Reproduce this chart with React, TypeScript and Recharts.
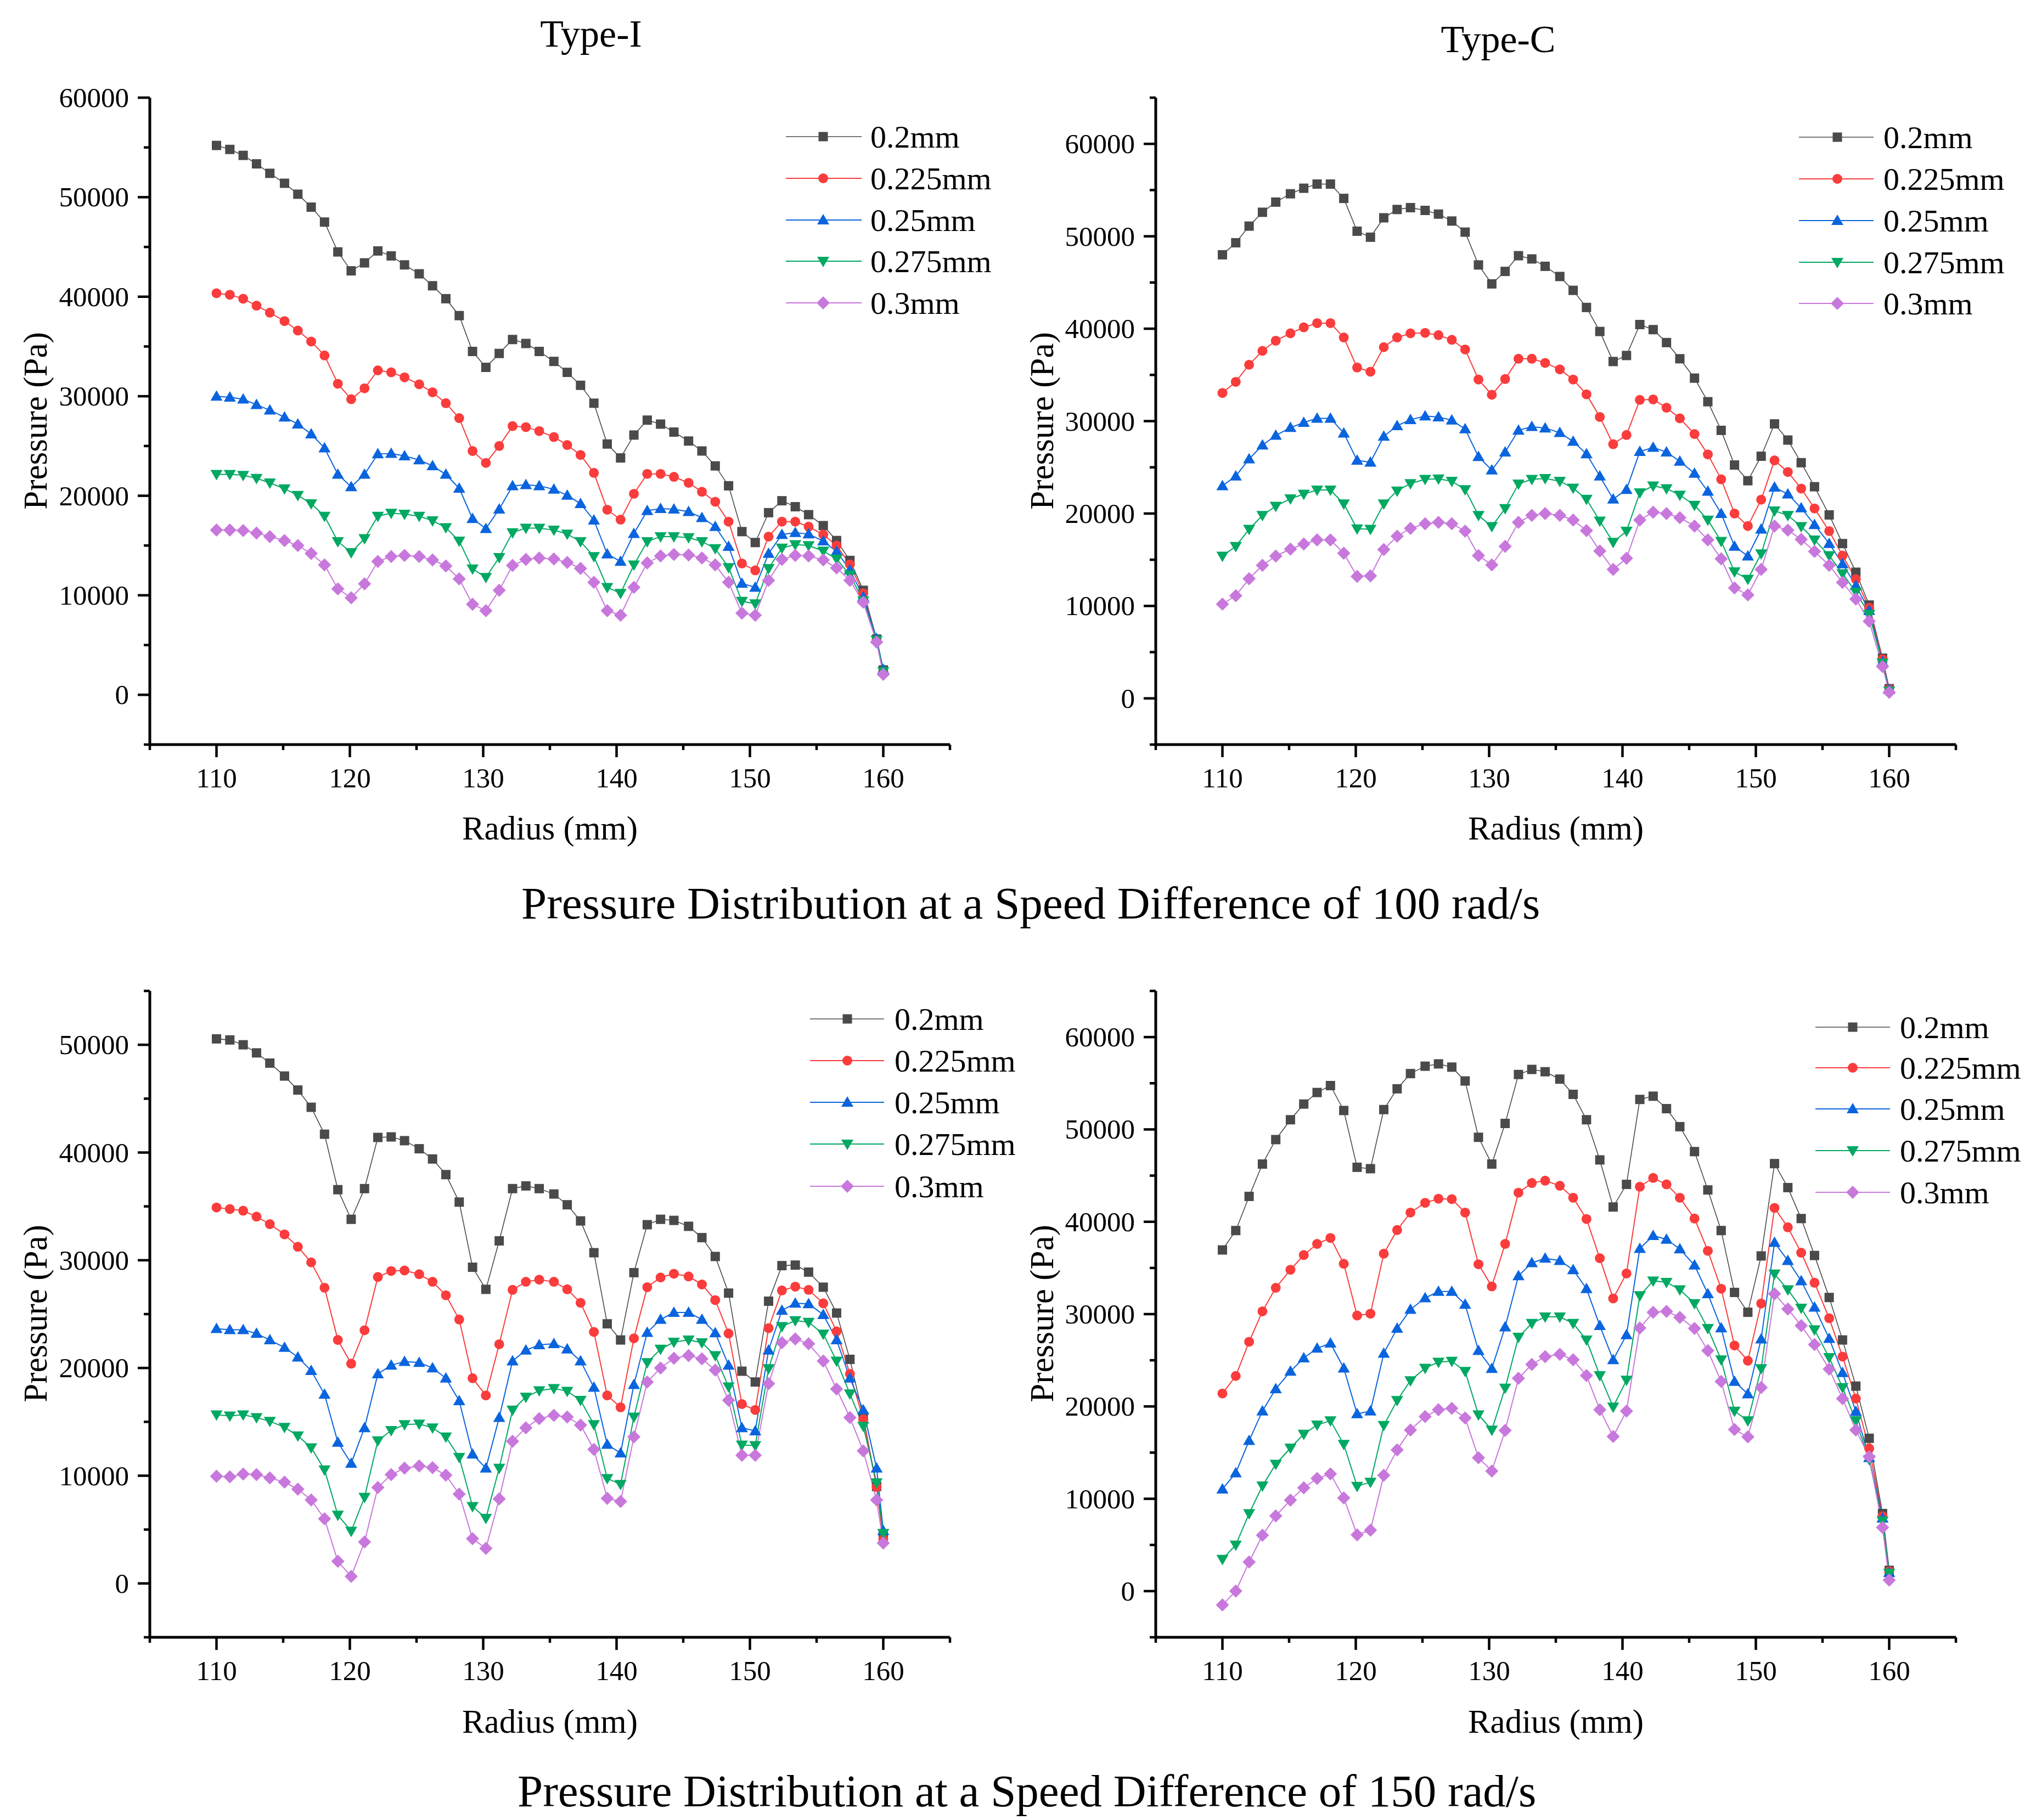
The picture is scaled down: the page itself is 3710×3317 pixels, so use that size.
import React from 'react';
import { LineChart, Line, XAxis, YAxis } from 'recharts';

const FONT = "'Liberation Serif', 'Times New Roman', Times, serif";

// Radius (mm) sample positions
const radius = [110, 111, 112, 113, 114, 115.1, 116.1, 117.1, 118.1, 119.1, 120.1, 121.1, 122.1, 123.1, 124.1, 125.2, 126.2, 127.2, 128.2, 129.2, 130.2, 131.2, 132.2, 133.2, 134.2, 135.3, 136.3, 137.3, 138.3, 139.3, 140.3, 141.3, 142.3, 143.3, 144.3, 145.4, 146.4, 147.4, 148.4, 149.4, 150.4, 151.4, 152.4, 153.4, 154.4, 155.5, 156.5, 157.5, 158.5, 159.5, 160];

const seriesNames = ['0.2mm', '0.225mm', '0.25mm', '0.275mm', '0.3mm'];
const xTicks = [105, 110, 115, 120, 125, 130, 135, 140, 145, 150, 155, 160, 165];
const yTicks60 = [-5000, 0, 5000, 10000, 15000, 20000, 25000, 30000, 35000, 40000, 45000, 50000, 55000, 60000];
const yTicks65 = [-5000, 0, 5000, 10000, 15000, 20000, 25000, 30000, 35000, 40000, 45000, 50000, 55000, 60000, 65000];
const yTicks55 = [-5000, 0, 5000, 10000, 15000, 20000, 25000, 30000, 35000, 40000, 45000, 50000, 55000];

// Type-I, 100 rad/s
const i100_02 = [55200, 54800, 54200, 53350, 52400, 51400, 50300, 49000, 47500, 44500, 42600, 43400, 44600, 44100, 43200, 42300, 41100, 39800, 38100, 34500, 32900, 34300, 35700, 35300, 34500, 33500, 32400, 31100, 29300, 25200, 23800, 26100, 27600, 27200, 26400, 25500, 24500, 23000, 21000, 16400, 15300, 18300, 19500, 18900, 18100, 17000, 15500, 13500, 10500, 5600, 2500];
const i100_0225 = [40350, 40200, 39800, 39100, 38400, 37550, 36600, 35500, 34100, 31250, 29700, 30800, 32600, 32400, 31900, 31200, 30400, 29300, 27800, 24500, 23300, 25000, 27000, 26900, 26500, 25900, 25100, 24100, 22300, 18600, 17600, 20200, 22200, 22200, 21900, 21300, 20400, 19400, 17400, 13200, 12500, 15900, 17400, 17400, 16900, 16100, 15000, 13100, 10200, 5500, 2400];
const i100_025 = [30000, 29900, 29700, 29150, 28600, 27900, 27200, 26200, 24800, 22150, 20900, 22150, 24200, 24250, 24000, 23600, 23000, 22150, 20750, 17700, 16700, 18650, 21000, 21100, 21000, 20650, 20050, 19200, 17550, 14150, 13400, 16200, 18500, 18700, 18650, 18400, 17800, 16900, 14900, 11200, 10800, 14200, 16100, 16300, 16150, 15450, 14400, 12550, 9850, 5650, 2550];
const i100_0275 = [22150, 22150, 22050, 21750, 21300, 20700, 20050, 19200, 17950, 15400, 14300, 15700, 17950, 18250, 18150, 17950, 17500, 16800, 15450, 12650, 11800, 13800, 16300, 16750, 16750, 16550, 16150, 15400, 13900, 10800, 10200, 13050, 15400, 15900, 15900, 15800, 15400, 14700, 12800, 9400, 9150, 12700, 14750, 15100, 15000, 14450, 13650, 12050, 9450, 5500, 2350];
const i100_03 = [16550, 16550, 16500, 16250, 15900, 15500, 15000, 14200, 13050, 10650, 9750, 11150, 13400, 13900, 14000, 13900, 13550, 12950, 11650, 9100, 8450, 10500, 13000, 13600, 13750, 13650, 13300, 12700, 11300, 8450, 8000, 10800, 13250, 13950, 14100, 14050, 13750, 13050, 11300, 8200, 8000, 11500, 13600, 14000, 13950, 13550, 12750, 11500, 9300, 5300, 2050];

// Type-C, 100 rad/s
const c100_02 = [48000, 49300, 51100, 52600, 53700, 54600, 55200, 55650, 55650, 54100, 50550, 49900, 52000, 52900, 53100, 52800, 52400, 51650, 50450, 46900, 44850, 46200, 47900, 47550, 46750, 45650, 44150, 42300, 39700, 36450, 37100, 40450, 39900, 38500, 36750, 34650, 32100, 29000, 25250, 23550, 26200, 29700, 27950, 25500, 22900, 19850, 16750, 13650, 10100, 4350, 1050];
const c100_0225 = [33050, 34250, 36100, 37600, 38700, 39500, 40150, 40600, 40600, 39050, 35800, 35350, 38000, 39050, 39500, 39550, 39300, 38800, 37750, 34500, 32850, 34550, 36750, 36750, 36300, 35600, 34500, 32900, 30450, 27500, 28500, 32300, 32350, 31450, 30300, 28600, 26400, 23700, 20000, 18650, 21500, 25750, 24500, 22700, 20550, 18100, 15450, 12900, 9800, 4250, 1000];
const c100_025 = [23000, 24050, 25900, 27400, 28450, 29300, 29850, 30300, 30300, 28700, 25750, 25550, 28350, 29500, 30150, 30550, 30450, 30100, 29150, 26150, 24700, 26650, 29000, 29400, 29250, 28750, 27800, 26450, 24050, 21550, 22600, 26700, 27150, 26650, 25650, 24350, 22400, 20000, 16450, 15400, 18300, 22850, 22100, 20600, 18800, 16750, 14550, 12200, 9500, 3950, 950];
const c100_0275 = [15400, 16450, 18300, 19800, 20800, 21600, 22100, 22550, 22550, 21050, 18350, 18300, 21050, 22450, 23250, 23700, 23750, 23500, 22600, 19800, 18600, 20550, 23200, 23700, 23800, 23500, 22750, 21550, 19200, 16900, 18100, 22250, 23000, 22700, 22000, 20900, 19300, 17000, 13700, 12900, 15650, 20300, 19800, 18600, 17150, 15450, 13500, 11500, 9100, 3850, 800];
const c100_03 = [10200, 11100, 12950, 14400, 15400, 16150, 16700, 17150, 17150, 15700, 13200, 13250, 16100, 17550, 18400, 18900, 19050, 18900, 18100, 15450, 14450, 16450, 19050, 19800, 20000, 19800, 19300, 18150, 15950, 13950, 15150, 19300, 20150, 20000, 19550, 18650, 17150, 15100, 11950, 11200, 13950, 18650, 18200, 17200, 15900, 14400, 12550, 10750, 8350, 3450, 650];

// Type-I, 150 rad/s
const i150_02 = [50550, 50450, 50000, 49250, 48300, 47100, 45800, 44200, 41700, 36550, 33800, 36650, 41400, 41450, 41100, 40350, 39400, 37950, 35400, 29350, 27300, 31800, 36650, 36900, 36650, 36150, 35150, 33650, 30700, 24100, 22600, 28850, 33300, 33800, 33700, 33150, 32100, 30350, 26950, 19700, 18700, 26200, 29500, 29550, 28900, 27500, 25100, 20800, 15500, 9000, 4500];
const i150_0225 = [34900, 34750, 34600, 34050, 33350, 32400, 31250, 29800, 27450, 22600, 20400, 23500, 28450, 29000, 29050, 28700, 28000, 26750, 24500, 19050, 17450, 22200, 27250, 28000, 28200, 28000, 27300, 26050, 23350, 17450, 16350, 22750, 27500, 28400, 28750, 28500, 27750, 26300, 23200, 16650, 16100, 23700, 27200, 27550, 27250, 26000, 23400, 19450, 15250, 8950, 4100];
const i150_025 = [23650, 23550, 23550, 23200, 22600, 21900, 21000, 19750, 17550, 13100, 11150, 14450, 19450, 20250, 20600, 20500, 20000, 19050, 16950, 12000, 10700, 15400, 20650, 21650, 22150, 22250, 21750, 20650, 18200, 12900, 12100, 18450, 23300, 24500, 25150, 25150, 24500, 23250, 20250, 14450, 14150, 21650, 25350, 26000, 25950, 24950, 22600, 19050, 16100, 10700, 4900];
const i150_0275 = [15650, 15550, 15650, 15400, 15050, 14500, 13700, 12600, 10550, 6350, 4850, 8000, 13250, 14200, 14750, 14800, 14450, 13600, 11700, 7150, 6050, 10700, 16100, 17300, 17900, 18100, 17850, 17000, 14750, 9750, 9200, 15450, 20500, 21750, 22400, 22600, 22350, 21150, 18250, 12850, 12800, 19950, 23850, 24400, 24250, 23150, 20650, 17600, 14600, 9350, 4650];
const i150_03 = [9950, 9900, 10150, 10100, 9800, 9400, 8750, 7750, 6000, 2050, 650, 3850, 8900, 10100, 10700, 10900, 10750, 10050, 8300, 4150, 3250, 7850, 13200, 14450, 15300, 15600, 15450, 14700, 12450, 7900, 7600, 13600, 18700, 20000, 20900, 21150, 20850, 19800, 17000, 11900, 11900, 18550, 22350, 22700, 22250, 20650, 18050, 15400, 12300, 7750, 3750];

// Type-C, 150 rad/s
const c150_02 = [36950, 39050, 42750, 46250, 48900, 51050, 52750, 54000, 54750, 52050, 45900, 45750, 52150, 54400, 56050, 56850, 57100, 56750, 55250, 49150, 46250, 50650, 55950, 56500, 56250, 55450, 53800, 51050, 46700, 41600, 44050, 53250, 53600, 52250, 50300, 47600, 43450, 39050, 32350, 30200, 36300, 46300, 43700, 40350, 36350, 31800, 27200, 22200, 16550, 8400, 2250];
const c150_0225 = [21400, 23300, 27000, 30300, 32850, 34800, 36400, 37600, 38250, 35450, 29850, 30050, 36550, 39100, 41000, 42050, 42500, 42450, 41000, 35400, 33000, 37600, 43150, 44200, 44450, 43900, 42600, 40300, 36050, 31700, 34400, 43800, 44750, 44050, 42600, 40350, 36850, 32750, 26600, 24950, 31150, 41500, 39400, 36650, 33400, 29550, 25400, 20850, 15450, 8100, 2150];
const c150_025 = [11050, 12800, 16300, 19500, 21900, 23800, 25250, 26300, 26850, 24150, 19200, 19500, 25750, 28450, 30500, 31750, 32450, 32450, 31050, 26050, 24100, 28600, 34150, 35550, 36050, 35800, 34800, 32750, 28750, 25050, 27750, 37100, 38500, 38100, 37050, 35300, 32200, 28500, 22700, 21350, 27300, 37750, 35800, 33600, 30750, 27350, 23650, 19450, 14450, 7900, 2000];
const c150_0275 = [3450, 5000, 8400, 11400, 13750, 15500, 17000, 18000, 18450, 15900, 11350, 11800, 17950, 20650, 22800, 24150, 24800, 24900, 23800, 19100, 17450, 22000, 27500, 29000, 29700, 29700, 29000, 27200, 23350, 19950, 22850, 32000, 33600, 33450, 32650, 31150, 28450, 25050, 19500, 18450, 24100, 34350, 32650, 30650, 28300, 25300, 22050, 18450, 14250, 7600, 1950];
const c150_03 = [-1500, 0, 3150, 6050, 8150, 9850, 11200, 12200, 12700, 10100, 6100, 6600, 12550, 15300, 17450, 18900, 19650, 19800, 18750, 14450, 13000, 17400, 23050, 24550, 25400, 25650, 25050, 23350, 19650, 16750, 19500, 28500, 30200, 30300, 29650, 28450, 26050, 22700, 17500, 16700, 22050, 32200, 30550, 28750, 26700, 24050, 20850, 17450, 14550, 6900, 1200];

const KEYS = ['a', 'b', 'c', 'd', 'e'];
const COLORS = ['#4a4a4a', '#fa3c3c', '#0a64de', '#00a862', '#c878dc'];
const SHAPES = ['square', 'circle', 'up', 'down', 'diamond'];

function buildRows(cols: number[][]) {
  return radius.map((r, i) => {
    const row: any = { r };
    KEYS.forEach((k, j) => {
      row[k] = cols[j][i];
    });
    return row;
  });
}

function Marker({ shape, cx, cy, color }: { shape: string; cx: number; cy: number; color: string }) {
  if (cx == null || cy == null) return null;
  switch (shape) {
    case 'square':
      return <rect x={cx - 8.5} y={cy - 8.5} width={17} height={17} fill={color} />;
    case 'circle':
      return <circle cx={cx} cy={cy} r={9} fill={color} />;
    case 'up':
      return <polygon points={`${cx},${cy - 11} ${cx + 11},${cy + 8} ${cx - 11},${cy + 8}`} fill={color} />;
    case 'down':
      return <polygon points={`${cx - 11},${cy - 8} ${cx + 11},${cy - 8} ${cx},${cy + 11}`} fill={color} />;
    default:
      return <polygon points={`${cx},${cy - 12} ${cx + 12},${cy} ${cx},${cy + 12} ${cx - 12},${cy}`} fill={color} />;
  }
}

type Box = { left: number; top: number; width: number; height: number };
type Plot = { left: number; right: number; top: number; bottom: number };

const YW = 200;
const XH = 150;

function Panel({ box, plot, yDomain, yTicks, rows }: { box: Box; plot: Plot; yDomain: [number, number]; yTicks: number[]; rows: any[] }) {
  const margin = {
    left: plot.left - box.left - YW,
    right: box.left + box.width - plot.right,
    top: plot.top - box.top,
    bottom: box.top + box.height - plot.bottom - XH,
  };
  const PL = plot.left - box.left;
  const PB = plot.bottom - box.top;

  const yTick = (props: any) => {
    const { y, payload } = props;
    const v = payload.value;
    const major = v % 10000 === 0 && v >= 0;
    return (
      <g>
        <line x1={PL - (major ? 22 : 11)} x2={PL} y1={y} y2={y} stroke="#000" strokeWidth={4.5} />
        {major && (
          <text x={PL - 38} y={y} textAnchor="end" dominantBaseline="central" fontSize={51} fontFamily={FONT} fill="#000">
            {v}
          </text>
        )}
      </g>
    );
  };
  const xTick = (props: any) => {
    const { x, payload } = props;
    const v = payload.value;
    const major = v % 10 === 0;
    return (
      <g>
        <line x1={x} x2={x} y1={PB} y2={PB + (major ? 23 : 10)} stroke="#000" strokeWidth={4.5} />
        {major && (
          <text x={x} y={PB + 61} textAnchor="middle" dominantBaseline="central" fontSize={51} fontFamily={FONT} fill="#000">
            {v}
          </text>
        )}
      </g>
    );
  };

  return (
    <div style={{ position: 'absolute', left: box.left, top: box.top, width: box.width, height: box.height }}>
      <LineChart width={box.width} height={box.height} data={rows} margin={margin}>
        <XAxis
          dataKey="r"
          type="number"
          domain={[105, 165]}
          ticks={xTicks}
          interval={0}
          height={XH}
          tickLine={false}
          axisLine={{ stroke: '#000', strokeWidth: 5 }}
          tick={xTick}
          allowDataOverflow
        />
        <YAxis
          type="number"
          domain={yDomain}
          ticks={yTicks}
          interval={0}
          width={YW}
          tickLine={false}
          axisLine={{ stroke: '#000', strokeWidth: 5 }}
          tick={yTick}
          allowDataOverflow
        />
        {KEYS.map((k, j) => (
          <Line
            key={k}
            type="linear"
            dataKey={k}
            name={seriesNames[j]}
            stroke={COLORS[j]}
            strokeWidth={j === 0 ? 1.6 : 2}
            isAnimationActive={false}
            activeDot={false}
            dot={(p: any) => <Marker key={`${k}-${p.index}`} shape={SHAPES[j]} cx={p.cx} cy={p.cy} color={COLORS[j]} />}
          />
        ))}
      </LineChart>
    </div>
  );
}

function LegendBlock({ x1, x2, mx, tx, rows }: { x1: number; x2: number; mx: number; tx: number; rows: number[] }) {
  return (
    <g>
      {rows.map((y, j) => (
        <g key={j}>
          <line x1={x1} x2={x2} y1={y} y2={y} stroke={COLORS[j]} strokeWidth={j === 0 ? 1.6 : 2} />
          <Marker shape={SHAPES[j]} cx={mx} cy={y} color={COLORS[j]} />
          <text x={tx} y={y} dominantBaseline="central" fontSize={58} fontFamily={FONT} fill="#000">
            {seriesNames[j]}
          </text>
        </g>
      ))}
    </g>
  );
}

export default function App() {
  const rows1 = buildRows([i100_02, i100_0225, i100_025, i100_0275, i100_03]);
  const rows2 = buildRows([c100_02, c100_0225, c100_025, c100_0275, c100_03]);
  const rows3 = buildRows([i150_02, i150_0225, i150_025, i150_0275, i150_03]);
  const rows4 = buildRows([c150_02, c150_0225, c150_025, c150_0275, c150_03]);

  return (
    <div style={{ position: 'absolute', left: 0, top: 0, width: 3710, height: 3317, background: '#fff', overflow: 'hidden' }}>
      <Panel box={{ left: 0, top: 0, width: 1855, height: 1658 }} plot={{ left: 273, right: 1731, top: 178, bottom: 1357 }} yDomain={[-5000, 60000]} yTicks={yTicks60} rows={rows1} />
      <Panel box={{ left: 1855, top: 0, width: 1855, height: 1658 }} plot={{ left: 2106, right: 3564, top: 178, bottom: 1357 }} yDomain={[-5000, 65000]} yTicks={yTicks65} rows={rows2} />
      <Panel box={{ left: 0, top: 1658, width: 1855, height: 1659 }} plot={{ left: 273, right: 1731, top: 1806, bottom: 2984 }} yDomain={[-5000, 55000]} yTicks={yTicks55} rows={rows3} />
      <Panel box={{ left: 1855, top: 1658, width: 1855, height: 1659 }} plot={{ left: 2106, right: 3564, top: 1806, bottom: 2984 }} yDomain={[-5000, 65000]} yTicks={yTicks65} rows={rows4} />

      <svg width={3710} height={3317} style={{ position: 'absolute', left: 0, top: 0, pointerEvents: 'none' }}>
        <text x={1077} y={61} textAnchor="middle" dominantBaseline="central" fontSize={70} fontFamily={FONT}>Type-I</text>
        <text x={2730} y={71} textAnchor="middle" dominantBaseline="central" fontSize={70} fontFamily={FONT}>Type-C</text>

        <text x={1002} y={1509} textAnchor="middle" dominantBaseline="central" fontSize={61} fontFamily={FONT}>Radius (mm)</text>
        <text x={2835} y={1509} textAnchor="middle" dominantBaseline="central" fontSize={61} fontFamily={FONT}>Radius (mm)</text>
        <text x={1002} y={3137} textAnchor="middle" dominantBaseline="central" fontSize={61} fontFamily={FONT}>Radius (mm)</text>
        <text x={2835} y={3137} textAnchor="middle" dominantBaseline="central" fontSize={61} fontFamily={FONT}>Radius (mm)</text>

        <text x={64} y={767} transform="rotate(-90 64 767)" textAnchor="middle" dominantBaseline="central" fontSize={61} fontFamily={FONT}>Pressure (Pa)</text>
        <text x={1898} y={767} transform="rotate(-90 1898 767)" textAnchor="middle" dominantBaseline="central" fontSize={61} fontFamily={FONT}>Pressure (Pa)</text>
        <text x={64} y={2394} transform="rotate(-90 64 2394)" textAnchor="middle" dominantBaseline="central" fontSize={61} fontFamily={FONT}>Pressure (Pa)</text>
        <text x={1898} y={2394} transform="rotate(-90 1898 2394)" textAnchor="middle" dominantBaseline="central" fontSize={61} fontFamily={FONT}>Pressure (Pa)</text>

        <text x={950} y={1646} dominantBaseline="central" fontSize={83} fontFamily={FONT}>Pressure Distribution at a Speed Difference of 100 rad/s</text>
        <text x={943} y={3264} dominantBaseline="central" fontSize={83} fontFamily={FONT}>Pressure Distribution at a Speed Difference of 150 rad/s</text>

        <LegendBlock x1={1432} x2={1570} mx={1500} tx={1586} rows={[249, 325, 401, 476, 552]} />
        <LegendBlock x1={3278} x2={3414} mx={3348} tx={3432} rows={[250, 326, 402, 478, 553]} />
        <LegendBlock x1={1476} x2={1611} mx={1544} tx={1630} rows={[1857, 1933, 2009, 2085, 2162]} />
        <LegendBlock x1={3308} x2={3444} mx={3376} tx={3462} rows={[1872, 1946, 2021, 2097, 2173]} />
      </svg>
    </div>
  );
}
